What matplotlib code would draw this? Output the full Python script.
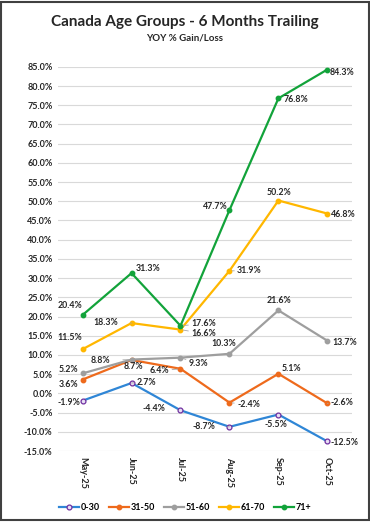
import matplotlib.pyplot as plt
from matplotlib.patches import Rectangle

plt.rcParams['font.family'] = ['Lato', 'DejaVu Sans']

months = ['May-25', 'Jun-25', 'Jul-25', 'Aug-25', 'Sep-25', 'Oct-25']
age_groups = ['0-30', '31-50', '51-60', '61-70', '71+']
g0_30 = [-1.9, 2.7, -4.4, -8.7, -5.5, -12.5]
g31_50 = [3.6, 8.7, 6.4, -2.4, 5.1, -2.6]
g51_60 = [5.2, 8.8, 9.3, 10.3, 21.6, 13.7]
g61_70 = [11.5, 18.3, 16.6, 31.9, 50.2, 46.8]
g71_up = [20.4, 31.3, 17.6, 47.7, 76.8, 84.3]
yticks = list(range(-15, 90, 5))

series = [g0_30, g31_50, g51_60, g61_70, g71_up]
colors = ['#2F86D6', '#EE6A1C', '#9E9E9E', '#FFB700', '#12A33A']

# label offsets in pixels (dx, dy) and whether a leader line is drawn
offsets = [
    [(-14, -2, 0), (15, 1, 1), (-27, 2, 1), (-26, 0, 1), (-2, -10, 0), (17, -1, 0)],
    [(-14, -5, 0), (2, -7, 0), (-21, -2, 1), (19, -2, 1), (13, 5, 0), (15, 1, 1)],
    [(-14, 4, 0), (-31, -1, 1), (18, -6, 1), (-6, 10, 0), (1, 10, 0), (17, -2, 1)],
    [(-13, 12, 0), (-26, 1, 1), (23, -4, 1), (20, 0, 1), (1, 8, 0), (16, -1, 0)],
    [(-13, 10, 0), (17, 5, 0), (23, 2, 1), (-14, 4, 0), (18, -1, 0), (15, -3, 1)],
]

fig = plt.figure(figsize=(3.7, 5.22), dpi=100)
ax = fig.add_axes((0.157, 0.136, 0.794, 0.736))

x = list(range(len(months)))
for i, (vals, c) in enumerate(zip(series, colors)):
    if i == 0:
        ax.plot(x, vals, color=c, lw=1.6, marker='o', ms=3.5,
                mfc='#E8E0F5', mec='#7030A0', mew=0.9, label=age_groups[i], zorder=3)
    else:
        ax.plot(x, vals, color=c, lw=1.6, marker='o', ms=3.2,
                label=age_groups[i], zorder=3)
    for j, v in enumerate(vals):
        dx, dy, lead = offsets[i][j]
        ap = dict(arrowstyle='-', color='#A6A6A6', lw=0.6, shrinkA=7, shrinkB=2) if lead else None
        ax.annotate(f'{v:.1f}%', (j, v), xytext=(dx, dy), textcoords='offset pixels',
                    ha='center', va='center', fontsize=6.3, fontweight='bold',
                    color='#262626', arrowprops=ap, zorder=4)

ax.set_xlim(-0.5, 5.5)
ax.set_ylim(-15, 85)
ax.set_yticks(yticks)
ax.set_yticklabels([f'{t:.1f}%' for t in yticks], fontsize=6.5, fontweight='bold', color='#262626')
ax.set_xticks(x)
ax.set_xticklabels(months, rotation=-90, fontsize=6.5, fontweight='bold', color='#262626')
ax.tick_params(length=0, pad=4)
ax.grid(axis='y', color='#D9D9D9', lw=0.8)
ax.set_axisbelow(True)
for s in ax.spines.values():
    s.set_visible(False)

fig.text(0.5, 0.958, 'Canada Age Groups - 6 Months Trailing', ha='center', va='center',
         fontsize=11, fontweight='bold', color='#262626')
fig.text(0.5, 0.927, 'YOY % Gain/Loss', ha='center', va='center',
         fontsize=7, fontweight='bold', color='#262626')

fig.legend(loc='center', bbox_to_anchor=(0.5, 0.027), ncol=5, frameon=False,
           fontsize=6.5, handlelength=2.2, columnspacing=1.0, handletextpad=0.2,
           prop={'weight': 'bold', 'size': 6.5})

fig.patches.append(Rectangle((0.003, 0.003), 0.994, 0.994, transform=fig.transFigure,
                             fill=False, ec='#404040', lw=1.5))

fig.savefig('out.png', dpi=100)
